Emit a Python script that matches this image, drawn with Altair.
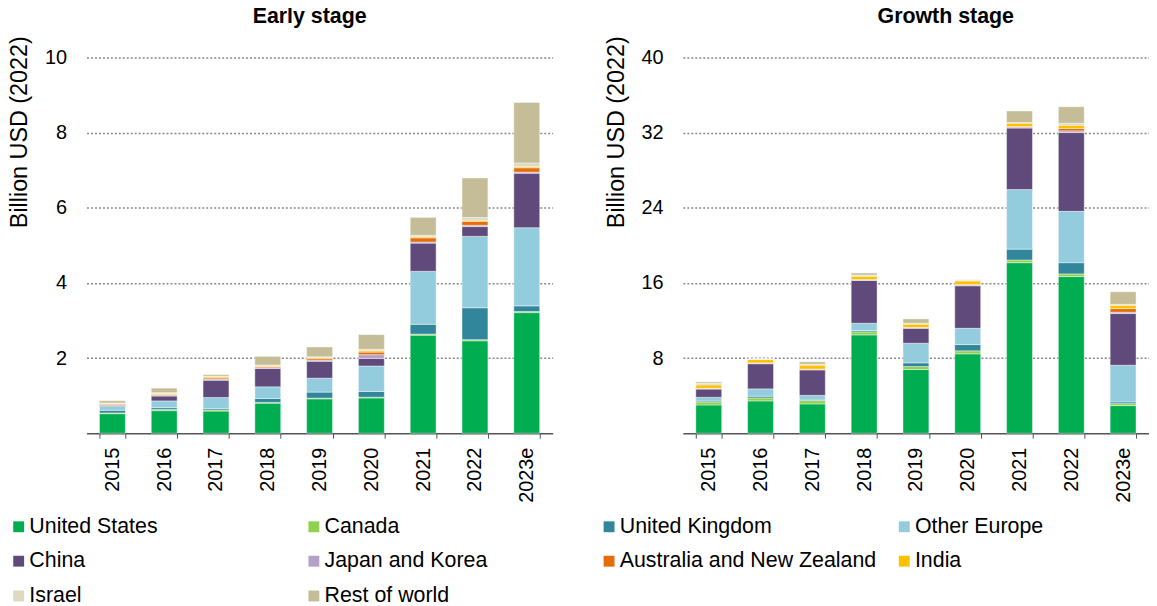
import altair as alt
import pandas as pd

years = ["2015", "2016", "2017", "2018", "2019", "2020", "2021", "2022", "2023e"]
regions = ["United States", "Canada", "United Kingdom", "Other Europe", "China",
           "Japan and Korea", "Australia and New Zealand", "India", "Israel", "Rest of world"]
colors = ["#00ad50", "#92d050", "#31869b", "#93cddd", "#604a7b",
          "#b3a2c7", "#e46c0a", "#ffc000", "#ddd9c3", "#c4bd97"]

# Early stage (billion USD 2022)
early_us = [0.52, 0.60, 0.59, 0.80, 0.915, 0.94, 2.61, 2.46, 3.21]
early_ca = [0.02, 0.03, 0.03, 0.02, 0.02, 0.02, 0.03, 0.03, 0.03]
early_uk = [0.07, 0.05, 0.04, 0.105, 0.16, 0.15, 0.26, 0.85, 0.15]
early_oe = [0.105, 0.18, 0.29, 0.31, 0.37, 0.68, 1.41, 1.90, 2.08]
early_cn = [0.03, 0.13, 0.46, 0.49, 0.45, 0.20, 0.75, 0.26, 1.45]
early_jk = [0.01, 0.02, 0.03, 0.02, 0.03, 0.10, 0.03, 0.035, 0.03]
early_au = [0.02, 0.02, 0.03, 0.03, 0.04, 0.07, 0.11, 0.105, 0.115]
early_in = [0.02, 0.03, 0.03, 0.02, 0.03, 0.035, 0.03, 0.03, 0.03]
early_il = [0.01, 0.02, 0.02, 0.02, 0.02, 0.04, 0.04, 0.07, 0.10]
early_rw = [0.06, 0.12, 0.04, 0.23, 0.26, 0.39, 0.475, 1.055, 1.61]

# Growth stage (billion USD 2022)
growth_us = [3.01, 3.44, 3.12, 10.47, 6.78, 8.45, 18.16, 16.68, 2.94]
growth_ca = [0.32, 0.32, 0.35, 0.32, 0.32, 0.32, 0.28, 0.28, 0.21]
growth_uk = [0.10, 0.18, 0.07, 0.14, 0.39, 0.67, 1.16, 1.20, 0.18]
growth_oe = [0.39, 0.78, 0.49, 0.78, 2.09, 1.73, 6.34, 5.46, 3.91]
growth_cn = [0.88, 2.68, 2.71, 4.56, 1.59, 4.53, 6.55, 8.39, 5.50]
growth_jk = [0.07, 0.07, 0.07, 0.07, 0.07, 0.10, 0.10, 0.18, 0.14]
growth_au = [0.02, 0.02, 0.02, 0.02, 0.02, 0.02, 0.07, 0.25, 0.39]
growth_in = [0.35, 0.35, 0.42, 0.35, 0.35, 0.39, 0.35, 0.35, 0.35]
growth_il = [0.18, 0.07, 0.10, 0.14, 0.10, 0.10, 0.07, 0.21, 0.10]
growth_rw = [0.14, 0.02, 0.25, 0.21, 0.46, 0.02, 1.23, 1.76, 1.34]

early_series = [early_us, early_ca, early_uk, early_oe, early_cn,
                early_jk, early_au, early_in, early_il, early_rw]
growth_series = [growth_us, growth_ca, growth_uk, growth_oe, growth_cn,
                 growth_jk, growth_au, growth_in, growth_il, growth_rw]


def to_df(series):
    rows = []
    for i, (reg, vals) in enumerate(zip(regions, series)):
        for y, v in zip(years, vals):
            rows.append({"year": y, "region": reg, "idx": i, "value": v})
    return pd.DataFrame(rows)


FONT = "Liberation Sans"
W, H = 469, 378


def panel(df, title, ticks, dx):
    color = alt.Color("region:N",
                      scale=alt.Scale(domain=regions, range=colors),
                      legend=alt.Legend(title=None, orient="none", legendX=-79, legendY=461,
                                        direction="horizontal", columns=4, gridAlign="all",
                                        columnPadding=17, rowPadding=12,
                                        symbolType="square", symbolSize=120,
                                        symbolStrokeWidth=0, labelFont=FONT, labelFontSize=21.5,
                                        labelColor="#000000", labelOffset=0, labelLimit=400))
    bars = alt.Chart(df).mark_bar(stroke="white", strokeWidth=0.6, strokeOpacity=0.7).encode(
        x=alt.X("year:N", sort=years,
                scale=alt.Scale(paddingInner=0.5, paddingOuter=0.25),
                axis=alt.Axis(title=None, labelAngle=270, labelAlign="right",
                              labelBaseline="middle", labelPadding=9, labelFont=FONT,
                              labelFontSize=20, labelColor="#000000", tickBand="extent",
                              tickSize=5, tickColor="#555555", domainColor="#555555",
                              domainWidth=1.5, grid=False)),
        y=alt.Y("value:Q", stack="zero",
                scale=alt.Scale(domain=[0, ticks[-1]], nice=False),
                axis=alt.Axis(title="Billion USD (2022)", values=ticks, domain=False,
                              ticks=False, labelPadding=20, labelFont=FONT, labelFontSize=20,
                              labelColor="#000000", titleFont=FONT, titleFontSize=23.5,
                              titleFontWeight="normal", titleColor="#000000",
                              titleAngle=270, titleX=-67, titleY=-22, titleAlign="right",
                              titleBaseline="middle",
                              gridColor="#888888", gridDash=[2, 2], gridWidth=1.5)),
        color=color,
        order=alt.Order("idx:Q", sort="ascending"),
    )
    return bars.properties(
        width=W, height=H,
        title=alt.TitleParams(title, font=FONT, fontSize=21.5, fontWeight="bold",
                              color="#000000", anchor="middle", dx=dx, offset=8),
    )


left = panel(to_df(early_series), "Early stage", [2, 4, 6, 8, 10], -10)
right = panel(to_df(growth_series), "Growth stage", [8, 16, 24, 32, 40], 30)

chart = alt.hconcat(left, right, spacing=52).properties(
    padding={"left": 0, "top": -4, "right": 0, "bottom": -4}
).configure_view(stroke=None).configure_axis(labelFont=FONT)

chart.save("out.html", embed_options={"renderer": "svg", "actions": False})
